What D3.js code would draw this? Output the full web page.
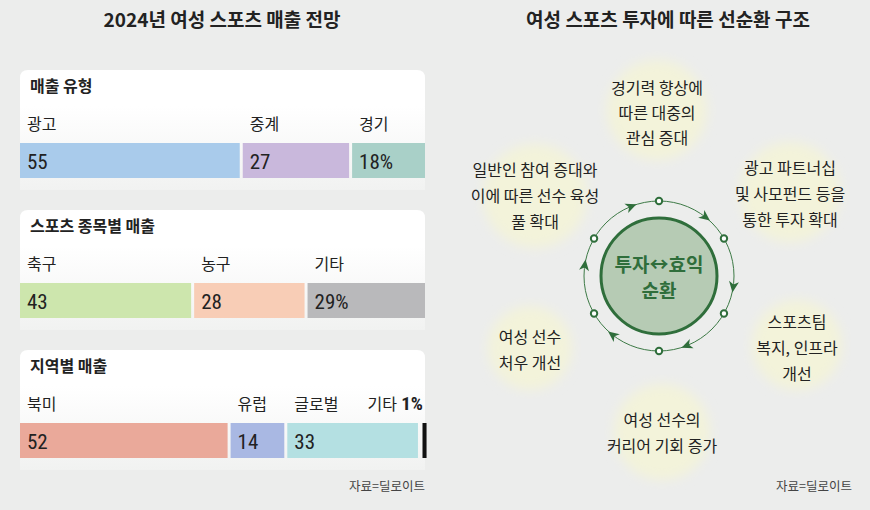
<!DOCTYPE html><html><head><meta charset="utf-8"><script src="https://cdn.jsdelivr.net/npm/d3@7"></script>
<style>body{margin:0;background:#ecedec}</style></head><body><svg id="c" width="870" height="510"></svg><script>
const groupTitles=["매출 유형","스포츠 종목별 매출","지역별 매출"];
const cats=[["광고","중계","경기"],["축구","농구","기타"],["북미","유럽","글로벌","기타"]];
const vals=[[55,27,18],[43,28,29],[52,14,33,1]];
const colors=[["#a9cbeb","#c9b8dc","#a9d0c8"],["#cde6ad","#f8cdb6","#b9b9bb"],["#eaa99a","#a9b8e3","#b4e0e2","#111"]];
const cycleSteps=[["경기력 향상에","따른 대중의","관심 증대"],["광고 파트너십","및 사모펀드 등을","통한 투자 확대"],["스포츠팀","복지, 인프라","개선"],["여성 선수의","커리어 기회 증가"],["여성 선수","처우 개선"],["일반인 참여 증대와","이에 따른 선수 육성","풀 확대"]];
const svg=d3.select("#c");const K="'Noto Sans CJK KR',sans-serif";const N="'Liberation Sans Narrow','Roboto Condensed',Roboto,sans-serif";
svg.append("rect").attr("width",870).attr("height",510).attr("fill","#ecedec");
const defs=svg.append("defs");
const g=defs.append("linearGradient").attr("id","gr").attr("x1",0).attr("x2",0).attr("y1",0).attr("y2",1);
g.append("stop").attr("offset","0.3").attr("stop-color","#fff");g.append("stop").attr("offset","1").attr("stop-color","#f1f2f1");
defs.append("filter").attr("id","bl").append("feGaussianBlur").attr("stdDeviation",6);
svg.append("text").attr("x",222).attr("y",27).attr("text-anchor","middle").attr("font-family",K).attr("font-weight",700).attr("font-size",19).attr("fill","#222").text("2024년 여성 스포츠 매출 전망");
svg.append("text").attr("x",668).attr("y",27).attr("text-anchor","middle").attr("font-family",K).attr("font-weight",700).attr("font-size",19).attr("fill","#222").text("여성 스포츠 투자에 따른 선순환 구조");
const x=d3.scaleLinear().domain([0,100]).range([20,425]);
vals.forEach((vs,i)=>{const y0=70+i*140;
 svg.append("path").attr("d",`M20,${y0+120}V${y0+8}Q20,${y0} 28,${y0}H417Q425,${y0} 425,${y0+8}V${y0+120}Z`).attr("fill","url(#gr)");
 svg.append("text").attr("x",30).attr("y",y0+22).attr("font-family",K).attr("font-weight",700).attr("font-size",16).attr("fill","#222").text(groupTitles[i]);
 let acc=0;vs.forEach((v,j)=>{const a=x(acc),b=x(acc+v);acc+=v;const last=j===vs.length-1;
  const w=Math.max(b-a-(last?0:3),2.5);const bx=(i===2&&last)?b-2.5:a;
  svg.append("rect").attr("x",bx).attr("y",y0+73).attr("width",w).attr("height",35).attr("fill",colors[i][j]);
  const tiny=v<5;
  const lbl=svg.append("text").attr("x",tiny?x(100)-2:a+7).attr("y",y0+60).attr("text-anchor",tiny?"end":"start").attr("font-family",K).attr("font-size",16).attr("fill","#222");
  lbl.append("tspan").text(cats[i][j]);
  if(tiny){lbl.append("tspan").attr("font-family",N).attr("font-weight",700).attr("font-size",19).text(" "+v+"%");}
  else svg.append("text").attr("x",a+7).attr("y",y0+99).attr("font-family",N).attr("font-size",21).attr("fill","#222").text(v+(j===vs.length-1?"%":""));
 });
});
[[425,491],[852,491]].forEach(p=>svg.append("text").attr("x",p[0]).attr("y",p[1]).attr("text-anchor","end").attr("font-family",K).attr("font-size",12.5).attr("fill","#444").text("자료=딜로이트"));
const cx=659,cy=276,R=75;
const blobs=[[657,110,50],[790,192,50],[797,345,45],[662,432,48],[530,348,42],[535,196,52]];
const lines=[[88,113,138],[168,194,220],[322,348,374],[420,446],[337,363],[170,196,222]];
const bx=[657,790,797,662,530,535];
blobs.forEach(b=>svg.append("circle").attr("cx",b[0]).attr("cy",b[1]).attr("r",b[2]).attr("fill","#f3f3da").attr("filter","url(#bl)"));
cycleSteps.forEach((s,i)=>s.forEach((t,k)=>svg.append("text").attr("x",bx[i]).attr("y",lines[i][k]+6).attr("text-anchor","middle").attr("font-family",K).attr("font-size",16).attr("fill","#222").text(t)));
svg.append("circle").attr("cx",cx).attr("cy",cy).attr("r",R).attr("fill","none").attr("stroke","#3d7a46").attr("stroke-width",1);
svg.append("circle").attr("cx",cx).attr("cy",cy).attr("r",58).attr("fill","#b6cbb4").attr("stroke","#2f6e3b").attr("stroke-width",3);
for(let k=0;k<6;k++){const a=(-90+60*k)*Math.PI/180;
 svg.append("circle").attr("cx",cx+R*Math.cos(a)).attr("cy",cy+R*Math.sin(a)).attr("r",3.2).attr("fill","#fff").attr("stroke","#2f6e3b").attr("stroke-width",2);
 const m=(-90+60*k+38);const ma=m*Math.PI/180;
 svg.append("path").attr("d","M6,0L-5,-5L-2,0L-5,5Z").attr("fill","#2f6e3b").attr("transform",`translate(${cx+R*Math.cos(ma)},${cy+R*Math.sin(ma)}) rotate(${m+90})`);
}
svg.append("text").attr("x",cx).attr("y",cy-4).attr("text-anchor","middle").attr("font-family",K).attr("font-weight",700).attr("font-size",19).attr("fill","#2f6e3b").text("투자↔효익");
svg.append("text").attr("x",cx).attr("y",cy+22).attr("text-anchor","middle").attr("font-family",K).attr("font-weight",700).attr("font-size",19).attr("fill","#2f6e3b").text("순환");
</script></body></html>
